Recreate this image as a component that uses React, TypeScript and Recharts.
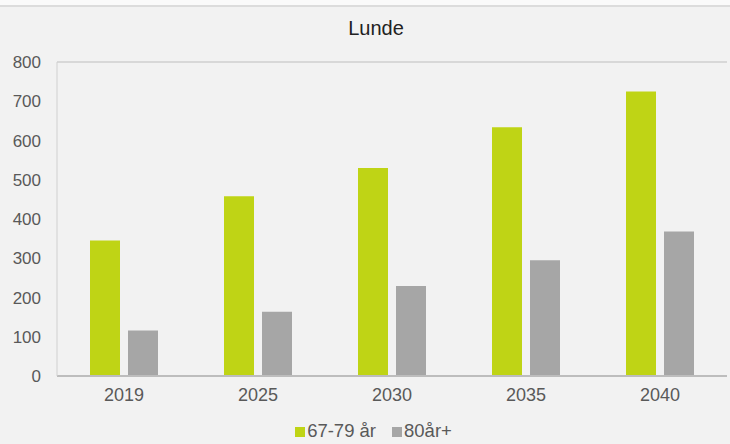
import React from 'react';
import { BarChart, Bar, XAxis, YAxis, CartesianGrid, Legend } from 'recharts';

const years = ['2019', '2025', '2030', '2035', '2040'];
const age67to79 = [345, 458, 530, 634, 725];
const age80plus = [116, 164, 229, 295, 368];
const yTicks = [0, 100, 200, 300, 400, 500, 600, 700, 800];

const GREEN = '#bfd415';
const GREY = '#a6a6a6';
const FONT = '"Liberation Sans", Arial, Helvetica, sans-serif';

const data = years.map((year, i) => ({
  year,
  a: age67to79[i],
  b: age80plus[i],
}));

const legendItems = [
  { label: '67-79 år', color: GREEN },
  { label: '80år+', color: GREY },
];

// legend drawn as plain html, squares sit on the text baseline like the original
const LegendBox = () => (
  <div style={{ height: 24, lineHeight: '22px', textAlign: 'center', paddingLeft: 20, fontFamily: FONT, fontSize: 18.5, color: '#595959', whiteSpace: 'nowrap' }}>
    {legendItems.map((it, i) => (
      <span key={it.label} style={{ marginLeft: i === 0 ? 0 : 16 }}>
        <span style={{ width: 10, height: 10, background: it.color, display: 'inline-block', marginRight: 2 }} />
        {it.label}
      </span>
    ))}
  </div>
);

export default function App() {
  return (
    <div style={{ position: 'absolute', left: 0, top: 0, width: 730, height: 444, background: '#fafafa' }}>
      <div style={{ position: 'absolute', left: 0, top: 5, width: 730, height: 439, background: '#f2f2f2', borderTop: '2px solid #dcdcdc', boxSizing: 'border-box' }} />
      <div style={{ position: 'absolute', left: 0, top: 17, width: 730, textAlign: 'center', paddingLeft: 22, boxSizing: 'border-box', fontFamily: FONT, fontSize: 20, color: '#222' }}>
        Lunde
      </div>
      <div style={{ position: 'absolute', left: 0, top: 0 }}>
        <BarChart width={730} height={444} data={data} margin={{ top: 62, right: 3, left: 0, bottom: 0 }} barGap={8} barSize={30}>
          <CartesianGrid vertical={false} stroke="#cfcfcf" strokeWidth={1.3} />
          <XAxis
            dataKey="year"
            height={44}
            tickLine={false}
            tickSize={0}
            tickMargin={12}
            axisLine={{ stroke: '#bdbdbd', strokeWidth: 2 }}
            tick={{ fill: '#595959', fontSize: 18, fontFamily: FONT }}
          />
          <YAxis
            yAxisId="left"
            width={57}
            domain={[0, 800]}
            ticks={yTicks}
            interval={0}
            tickLine={false}
            tickSize={0}
            tickMargin={16}
            axisLine={{ stroke: '#d0d0d0' }}
            tick={{ fill: '#595959', fontSize: 17, fontFamily: FONT }}
          />
          <YAxis yAxisId="right" orientation="right" width={0} tick={false} tickLine={false} axisLine={{ stroke: '#d0d0d0' }} domain={[0, 800]} />
          <Legend verticalAlign="bottom" content={() => <LegendBox />} />
          <Bar yAxisId="left" dataKey="a" name="67-79 år" fill={GREEN} isAnimationActive={false} />
          <Bar yAxisId="left" dataKey="b" name="80år+" fill={GREY} isAnimationActive={false} />
        </BarChart>
      </div>
    </div>
  );
}
